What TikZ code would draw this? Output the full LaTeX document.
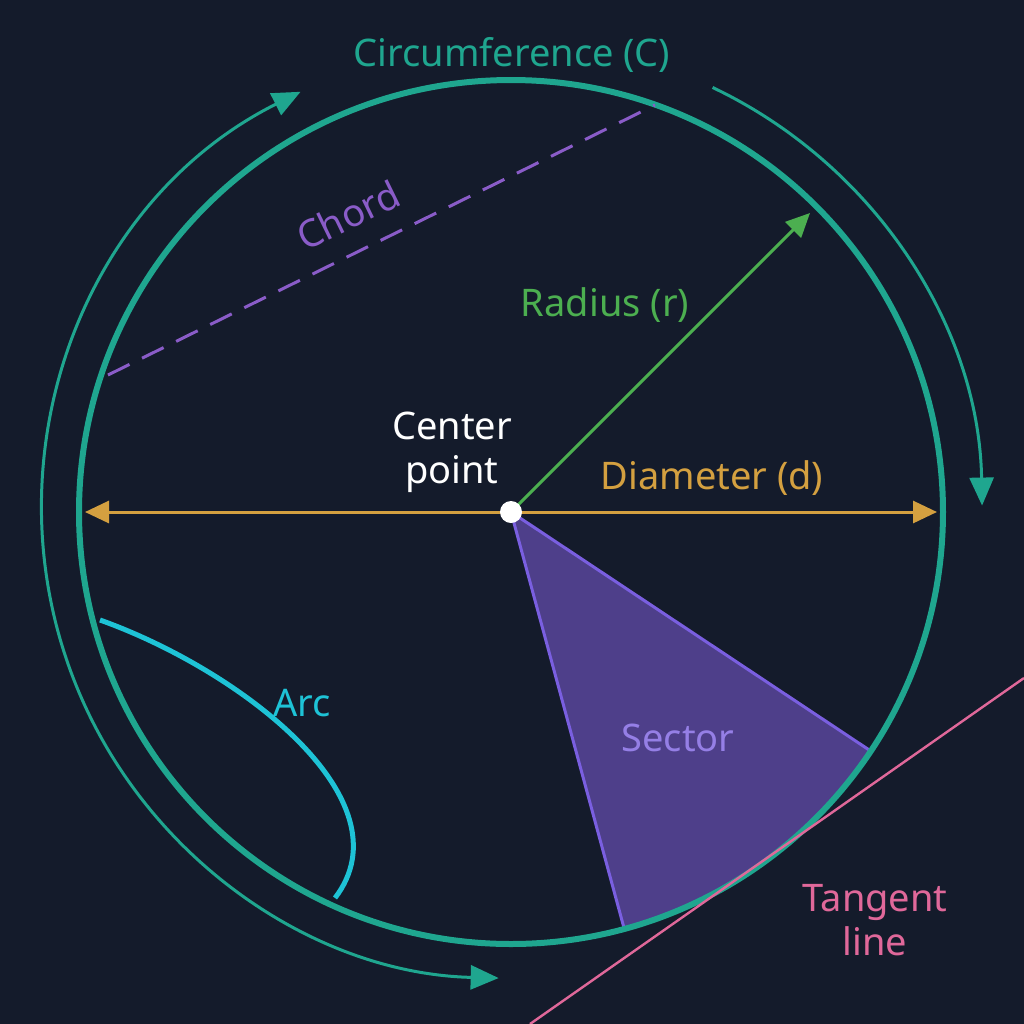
\documentclass[tikz,border=0pt]{standalone}
\usepackage{fontspec}
\setmainfont{Noto Sans}
\usetikzlibrary{arrows.meta,calc}
\definecolor{bg}{HTML}{141B2B}
\definecolor{teal}{HTML}{1FA68F}
\definecolor{chordc}{HTML}{8A5CC8}
\definecolor{radc}{HTML}{4CAF50}
\definecolor{gold}{HTML}{D4A040}
\definecolor{secf}{HTML}{4E3F8A}
\definecolor{secd}{HTML}{7A5FE0}
\definecolor{arcc}{HTML}{1EC3D6}
\definecolor{pink}{HTML}{E0689A}
\begin{document}
\begin{tikzpicture}[x=0.5pt,y=-0.5pt,
  lbl/.style={font=\fontsize{19}{22}\selectfont,inner sep=0pt}]
\fill[bg] (0,0) rectangle (1024,1024);
\useasboundingbox (0,0) rectangle (1024,1024);
\coordinate (O) at (511,512);
% sector
\fill[secf] (O) -- ($(O)+(74.8:432)$) arc[start angle=74.8,end angle=33.6,radius=432] -- cycle;
\draw[secd,line width=1.5pt] ($(O)+(33.6:432)$) -- (O) -- ($(O)+(74.8:432)$);
% circle
\draw[teal,line width=3pt] (O) circle[radius=432];
% outer arrows
\draw[teal,line width=1.5pt,{Triangle[length=14pt,width=12pt]}-{Triangle[length=14pt,width=12pt]}] ($(O)+(-116.6:470)$) arc[start angle=-116.6,end angle=-268.6,radius=468];
\draw[teal,line width=1.5pt,-{Triangle[length=14pt,width=12pt]}] ($(O)+(-64.6:470)$) arc[start angle=-64.6,end angle=-1,radius=472];
% chord
\coordinate (c1) at (108,375); \coordinate (c2) at (655,105);
\draw[chordc,line width=1.5pt,dash pattern=on 12pt off 7pt] (c1) -- (c2);
\node[lbl,text=chordc,rotate=26] (chl) at (348,215) {Chord};
% arc
\coordinate (a1) at (100,620); \coordinate (a2) at (335,898);
\draw[arcc,line width=2.5pt] (a1) .. controls (240,670) and (410,800) .. (a2);
\node[lbl,text=arcc] (arl) at (302,703) {Arc};
% diameter
\coordinate (d1) at (85,512); \coordinate (d2) at (937,512);
\draw[gold,line width=1.5pt,{Triangle[length=12pt,width=11pt]}-{Triangle[length=12pt,width=11pt]}] (d1) -- (d2);
\node[lbl,text=gold] (dl) at (712,478) {Diameter (d)};
% radius
\coordinate (r1) at (810,213);
\draw[radc,line width=1.5pt,-{Triangle[length=12pt,width=11pt]}] (O) -- (r1);
\node[lbl,text=radc] (rl) at (605,305) {Radius (r)};
% center
\node[circle,fill=white,inner sep=0pt,minimum size=11pt] (cp) at (O) {};
\node[lbl,text=white,align=center] (cl) at (452,452) {Center\\point};
% tangent
\coordinate (t1) at (530,1024); \coordinate (t2) at (1024,678);
\draw[pink,line width=1.2pt] (t1) -- (t2);
\node[lbl,text=pink,align=center] (tl) at (875,920) {Tangent\\line};
\node[lbl,text=secd!80!white] (sl) at (678,738) {Sector};
\node[lbl,text=teal] (cfl) at (512,55) {Circumference (C)};
\end{tikzpicture}
\end{document}
